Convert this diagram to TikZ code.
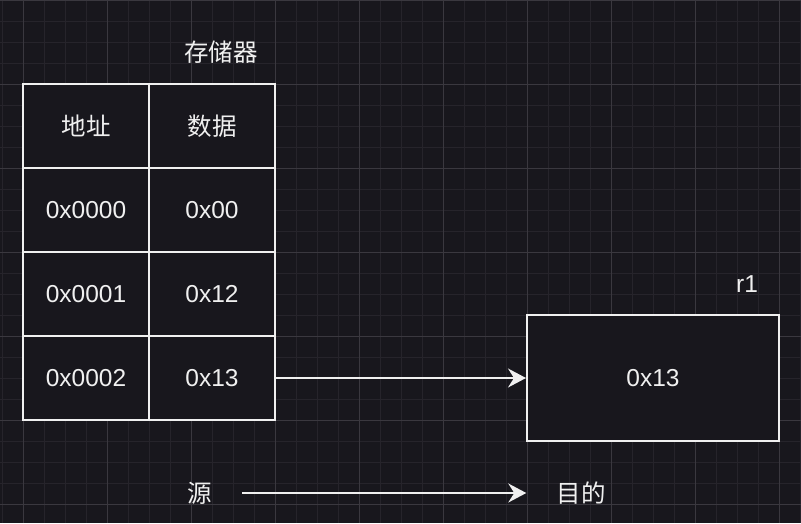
\documentclass[tikz,border=0pt]{standalone}
\usepackage{fontspec}
\setmainfont{Liberation Sans}
\newfontfamily\cjk{Noto Sans CJK SC}
\usetikzlibrary{arrows.meta}
\definecolor{bg}{HTML}{18171D}
\definecolor{gminor}{HTML}{26242B}
\definecolor{gmajor}{HTML}{3A383F}
\definecolor{fg}{HTML}{F0F0F0}
\tikzset{
  cell/.style={draw=fg, line width=2pt, fill=bg, minimum width=126pt, minimum height=84pt, inner sep=0pt, text=fg, font=\fontsize{24.5}{28}\selectfont},
  regbox/.style={draw=fg, line width=2pt, fill=bg, minimum width=252pt, minimum height=126pt, inner sep=0pt, text=fg, font=\fontsize{24.5}{28}\selectfont},
  lbl/.style={text=fg, inner sep=0pt, font=\fontsize{24.5}{28}\selectfont},
  conn/.style={draw=fg, line width=2pt, -{Stealth[length=18pt, width=19pt, inset=6pt]}},
}
\begin{document}
\begin{tikzpicture}[x=1pt,y=-1pt]
\useasboundingbox (0,0) rectangle (801,523);
\fill[bg] (0,0) rectangle (801,523);
\begin{scope}
\clip (0,0) rectangle (801,523);
\foreach \x in {2,23,...,800} \draw[gminor, line width=1pt] (\x,0) -- (\x,523);
\foreach \y in {0,21,...,522} \draw[gminor, line width=1pt] (0,\y) -- (801,\y);
\foreach \x in {23,107,...,800} \draw[gmajor, line width=1pt] (\x,0) -- (\x,523);
\foreach \y in {0,84,...,522} \draw[gmajor, line width=1pt] (0,\y) -- (801,\y);
\end{scope}

\node[lbl] (title) at (221,52) {\cjk 存储器};

\node[cell] (h1) at (86,126) {\cjk 地址};
\node[cell] (h2) at (212,126) {\cjk 数据};
\node[cell] (a0) at (86,210) {0x0000};
\node[cell] (d0) at (212,210) {0x00};
\node[cell] (a1) at (86,294) {0x0001};
\node[cell] (d1) at (212,294) {0x12};
\node[cell] (a2) at (86,378) {0x0002};
\node[cell] (d2) at (212,378) {0x13};

\node[lbl] (r1lbl) at (747,284) {r1};
\node[regbox] (r1) at (653,378) {0x13};

\draw[conn] (d2.east) -- (r1.west);

\node[lbl] (src) at (200,493) {\cjk 源};
\node[lbl] (dst) at (581,493) {\cjk 目的};
\draw[conn, shorten <=30pt, shorten >=30pt] (src.east) -- (dst.west);
\end{tikzpicture}
\end{document}
